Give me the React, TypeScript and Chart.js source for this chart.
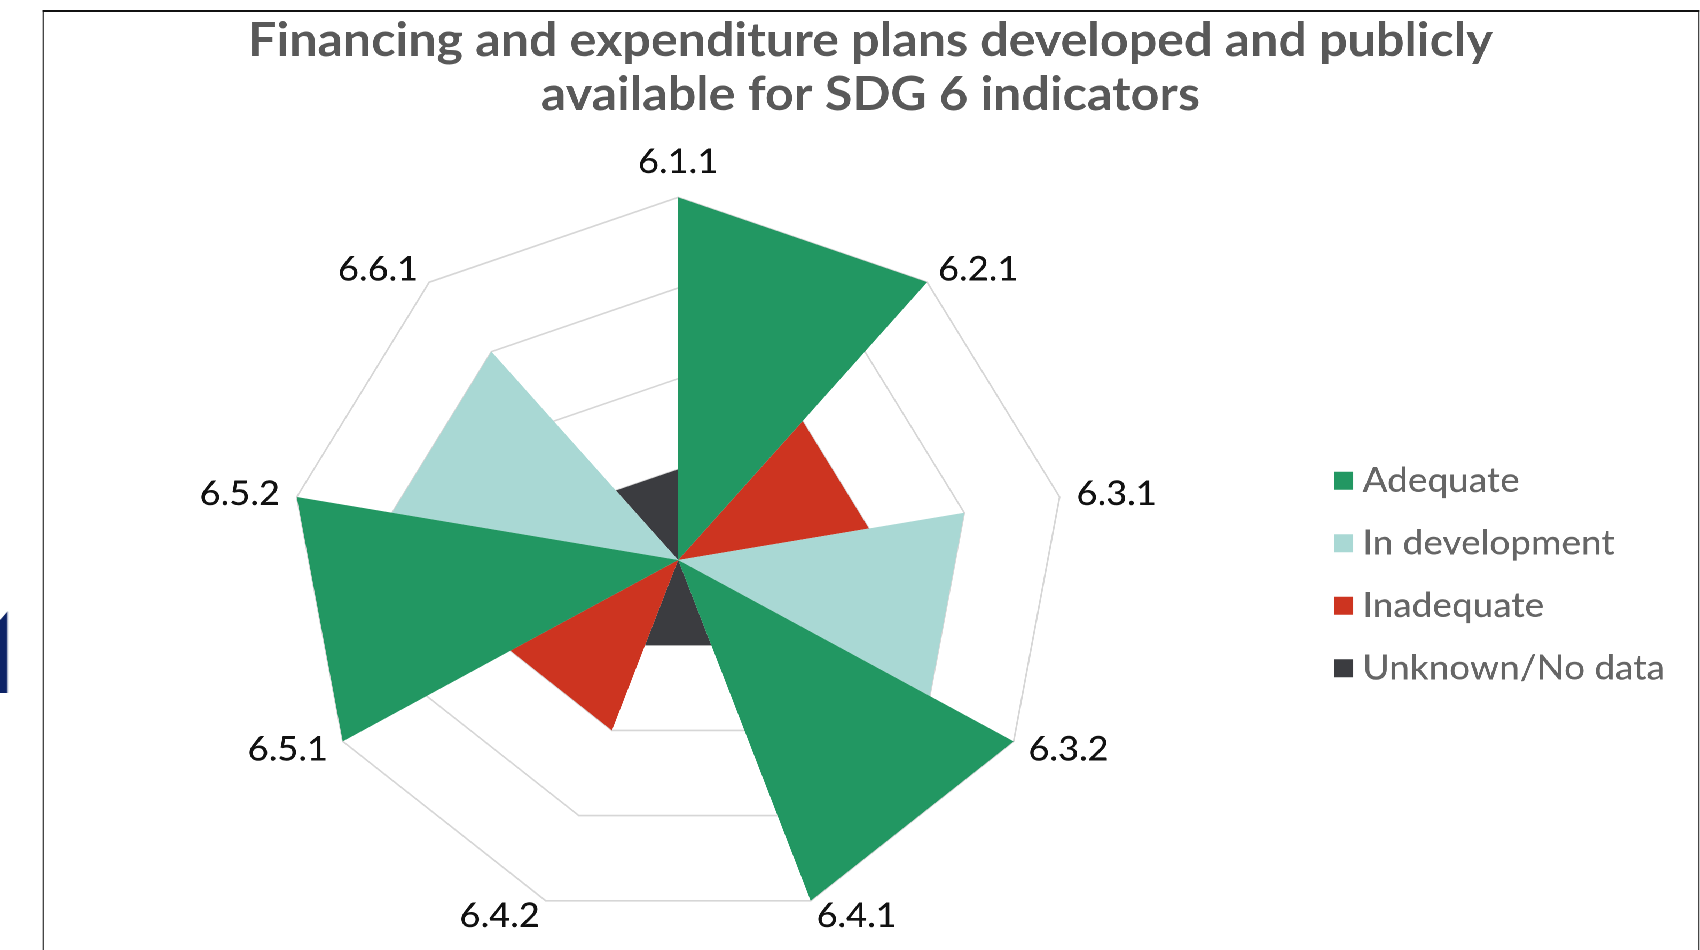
import React, { useEffect, useRef } from 'react';
import { Chart, registerables, layouts } from 'chart.js';

Chart.register(...registerables);

// ---------- data ----------
const INDICATORS = ['6.1.1', '6.2.1', '6.3.1', '6.3.2', '6.4.1', '6.4.2', '6.5.1', '6.5.2', '6.6.1'];
const SERIES_NAMES = ['Adequate', 'In development', 'Inadequate', 'Unknown/No data'];
const ADEQUATE = [4, 4, 0, 4, 4, 0, 4, 4, 0];
const IN_DEVELOPMENT = [0, 0, 3, 3, 0, 0, 0, 3, 3];
const INADEQUATE = [0, 2, 2, 0, 0, 2, 2, 0, 0];
const UNKNOWN = [1, 0, 0, 0, 1, 1, 0, 0, 1];
const SCALE_MIN = 0;
const SCALE_MAX = 4;
const SCALE_STEP = 1;
const TITLE_LINES = ['Financing and expenditure plans developed and publicly', 'available for SDG 6 indicators'];
const SERIES_COLORS = ['#229762', '#a9d8d4', '#cd3420', '#3b3c40'];

// ---------- layout / style ----------
const STRETCH_X = 1.068;
const CANVAS_W = 1546;
const CANVAS_H = 939;
const LEGEND_GAP = 20;

const legendGap = {
  id: 'legendGap',
  beforeInit(chart: any) {
    const box: any = {
      position: 'right',
      weight: 0,
      fullSize: false,
      options: { stack: undefined, stackWeight: 1 },
      left: 0,
      top: 0,
      right: 0,
      bottom: 0,
      width: 0,
      height: 0,
      update(_maxWidth: number, maxHeight: number) {
        box.width = LEGEND_GAP;
        box.height = maxHeight;
      },
      isHorizontal: () => false,
      getPadding: () => ({ top: 0, left: 0, right: 0, bottom: 0 }),
      draw() {},
    };
    layouts.addBox(chart, box);
  },
};

export default function App() {
  const canvasRef = useRef<HTMLCanvasElement | null>(null);

  useEffect(() => {
    const canvas = canvasRef.current;
    if (!canvas) return;
    const seriesValues = [ADEQUATE, IN_DEVELOPMENT, INADEQUATE, UNKNOWN];
    const chart = new Chart(canvas, {
      type: 'radar',
      data: {
        labels: INDICATORS,
        datasets: SERIES_NAMES.map((name, i) => ({
          label: name,
          data: seriesValues[i],
          backgroundColor: SERIES_COLORS[i],
          borderColor: SERIES_COLORS[i],
          borderWidth: 0,
          pointRadius: 0,
          pointHoverRadius: 0,
          pointBorderWidth: 0,
          pointBackgroundColor: SERIES_COLORS[i],
          fill: true,
        })),
      },
      plugins: [legendGap],
      options: {
        responsive: false,
        animation: false,
        devicePixelRatio: 2,
        events: [],
        layout: { padding: { left: 19, right: 19, top: 0, bottom: 8 } },
        plugins: {
          title: {
            display: true,
            text: TITLE_LINES,
            color: '#595959',
            font: { family: 'Lato', size: 47, weight: 'bold', lineHeight: '54px' },
            padding: { top: 3, bottom: 23 },
          },
          legend: {
            position: 'right',
            align: 'center',
            title: {
              display: true,
              text: ' ',
              font: { size: 10, lineHeight: 1 },
              padding: { top: 186, bottom: 0 },
            },
            labels: {
              usePointStyle: true,
              pointStyle: 'rect',
              boxWidth: 1,
              boxHeight: 18,
              padding: 28,
              color: '#111111',
              font: { family: 'Lato', size: 34.5, weight: '500' },
              generateLabels: (c: any) =>
                c.data.datasets.map((ds: any, i: number) => ({
                  text: ds.label,
                  fillStyle: ds.backgroundColor,
                  strokeStyle: ds.backgroundColor,
                  lineWidth: 0,
                  pointStyle: 'rect',
                  hidden: false,
                  datasetIndex: i,
                })),
            },
          },
          tooltip: { enabled: false },
        },
        scales: {
          r: {
            min: SCALE_MIN,
            max: SCALE_MAX,
            ticks: { display: false, stepSize: SCALE_STEP },
            grid: { color: '#d6d6d6', lineWidth: 1.6, circular: false },
            angleLines: { display: false },
            pointLabels: {
              color: '#111111',
              font: { family: 'Lato', size: 34, weight: '500', lineHeight: 0.01 },
              padding: (ctx: any) => (ctx.index === 0 ? 35 : 16),
            },
          },
        },
      } as any,
    });
    return () => chart.destroy();
  }, []);

  return (
    <div
      style={{
        position: 'fixed',
        left: 0,
        top: 0,
        width: 1700 / STRETCH_X,
        height: 950,
        overflow: 'hidden',
        background: '#ffffff',
        transform: `scaleX(${STRETCH_X})`,
        transformOrigin: '0 0',
      }}
    >
      <div
        style={{
          position: 'absolute',
          left: 0,
          top: 611,
          width: 8 / STRETCH_X,
          height: 82,
          background: '#0c2266',
          clipPath: 'polygon(0 11%, 100% 0, 100% 100%, 0 100%)',
        }}
      />
      <div
        style={{
          position: 'absolute',
          left: 40,
          top: 9.5,
          width: 1591 - 40,
          height: 980,
          boxSizing: 'border-box',
          borderLeft: '1.9px solid #111',
          borderTop: '2px solid #111',
          borderRight: '1.9px solid #111',
        }}
      />
      <canvas
        ref={canvasRef}
        width={CANVAS_W}
        height={CANVAS_H}
        style={{ position: 'absolute', left: 42, top: 11, display: 'block' }}
      />
    </div>
  );
}
